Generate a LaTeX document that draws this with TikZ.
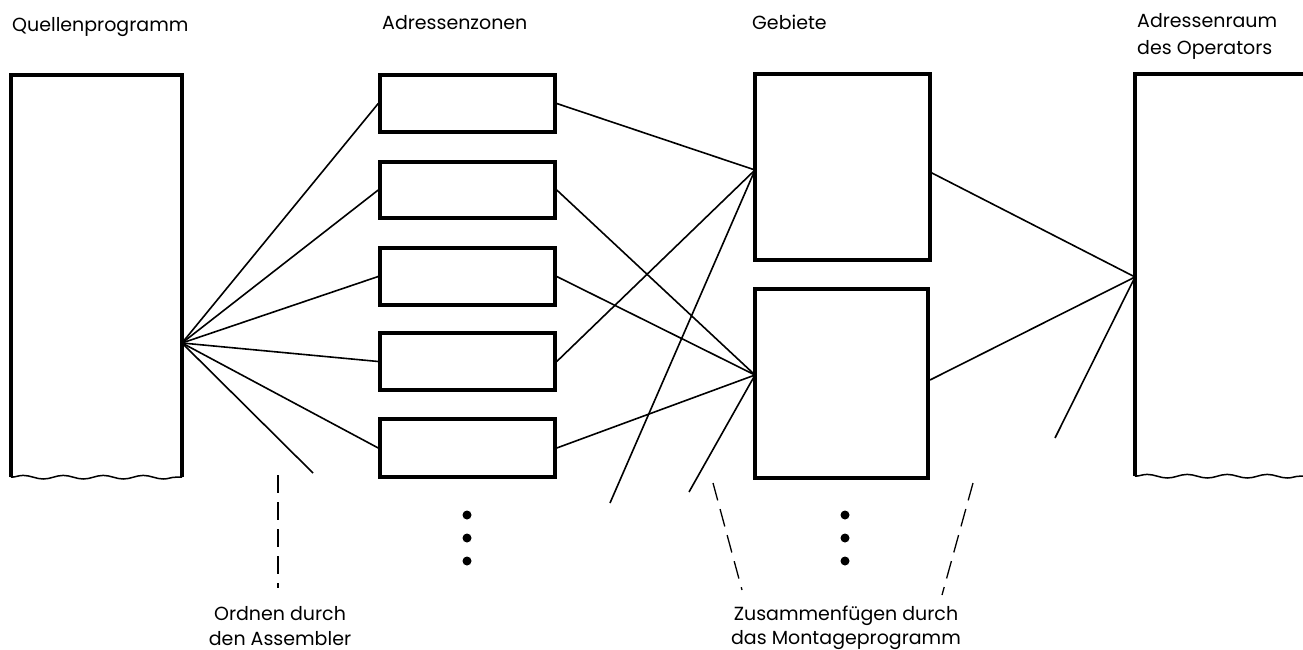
\documentclass[tikz,border=0pt]{standalone}
\usepackage{fontspec}
\setmainfont{Poppins}
\usetikzlibrary{decorations.pathmorphing}
\begin{document}
\begin{tikzpicture}[x=1pt,y=-1pt,
  box/.style={draw,line width=3.5pt,minimum width=#1},
  conn/.style={line width=1.6pt},
  dsh/.style={line width=1.3pt,dash pattern=on 18pt off 9pt},
  lab/.style={font=\fontsize{19}{25}\selectfont,inner sep=0pt,anchor=base west},
  captxt/.style={font=\fontsize{19}{25}\selectfont,inner sep=0pt,anchor=base},
  dot/.style={circle,fill,inner sep=0pt,minimum size=9pt},
  wave/.style={decorate,decoration={snake,amplitude=1.8pt,segment length=40pt}}]
\useasboundingbox (0,0) rectangle (1303,650);
% Quellenprogramm
\node[inner sep=0pt,minimum width=171pt,minimum height=402pt] (qp) at (96.5,276) {};
\draw[line width=3.5pt] (qp.south west) -- (qp.north west) -- (qp.north east) -- (qp.south east);
\draw[line width=1.5pt,wave] (qp.south west) -- (qp.south east);
% Adressenzonen
\node[box=175pt,minimum height=57pt] (z1) at (467.5,103.5) {};
\node[box=175pt,minimum height=56pt] (z2) at (467.5,190) {};
\node[box=175pt,minimum height=57pt] (z3) at (467.5,276.5) {};
\node[box=175pt,minimum height=57pt] (z4) at (467.5,361.5) {};
\node[box=175pt,minimum height=58pt] (z5) at (467.5,448) {};
% Gebiete
\node[box=175pt,minimum height=186pt] (ga) at (842.5,167) {};
\node[box=173pt,minimum height=189pt] (gb) at (841.5,383.5) {};
% Operator
\node[inner sep=0pt,minimum width=170pt,minimum height=402pt] (op) at (1220,275) {};
\draw[line width=3.5pt] (op.south west) -- (op.north west) -- (op.north east);
\draw[line width=1.5pt,wave] (op.south west) -- (op.south east);
% coordinates
\coordinate (q) at (182,343);
\coordinate (aw) at (755,170);
\coordinate (bw) at (755,375);
\coordinate (ae) at (930,172);
\coordinate (be) at (930,380);
\coordinate (ow) at (1135,277);
\coordinate (f1) at (313,473);
\coordinate (f2) at (610,503);
\coordinate (f3) at (689,492);
\coordinate (f4) at (1055,438);
% connectors
\draw[conn] (q) -- (z1.west);
\draw[conn] (q) -- (z2.west);
\draw[conn] (q) -- (z3.west);
\draw[conn] (q) -- (z4.west);
\draw[conn] (q) -- (z5.west);
\draw[conn] (q) -- (f1);
\draw[conn] (z1.east) -- (aw);
\draw[conn] (z4.east) -- (aw);
\draw[conn] (aw) -- (f2);
\draw[conn] (z2.east) -- (bw);
\draw[conn] (z3.east) -- (bw);
\draw[conn] (z5.east) -- (bw);
\draw[conn] (bw) -- (f3);
\draw[conn] (ae) -- (ow);
\draw[conn] (be) -- (ow);
\draw[conn] (ow) -- (f4);
% dots
\node[dot] (d1) at (467,515) {};
\node[dot] (d2) at (467,538) {};
\node[dot] (d3) at (467,561) {};
\node[dot] (e1) at (845,515) {};
\node[dot] (e2) at (845,538) {};
\node[dot] (e3) at (845,561) {};
% dashed leaders
\coordinate (l1a) at (278,475);
\coordinate (l1b) at (278,588);
\coordinate (l2a) at (713,483);
\coordinate (l2b) at (742,590);
\coordinate (l3a) at (973,483);
\coordinate (l3b) at (942,595);
\draw[dsh] (l1a) -- (l1b);
\draw[dsh] (l2a) -- (l2b);
\draw[dsh] (l3a) -- (l3b);
% labels
\node[lab] (t1) at (12,32) {Quellenprogramm};
\node[lab] (t2) at (382,30) {Adressenzonen};
\node[lab] (t3) at (752,30) {Gebiete};
\node[lab] (t4) at (1137,28) {Adressenraum};
\node[lab] (t5) at (1137,55) {des Operators};
\node[captxt] (c1) at (280,620) {Ordnen durch};
\node[captxt] (c1b) at (280,645) {den Assembler};
\node[captxt] (c2) at (846,620) {Zusammenfügen durch};
\node[captxt] (c2b) at (846,644) {das Montageprogramm};
\end{tikzpicture}
\end{document}
